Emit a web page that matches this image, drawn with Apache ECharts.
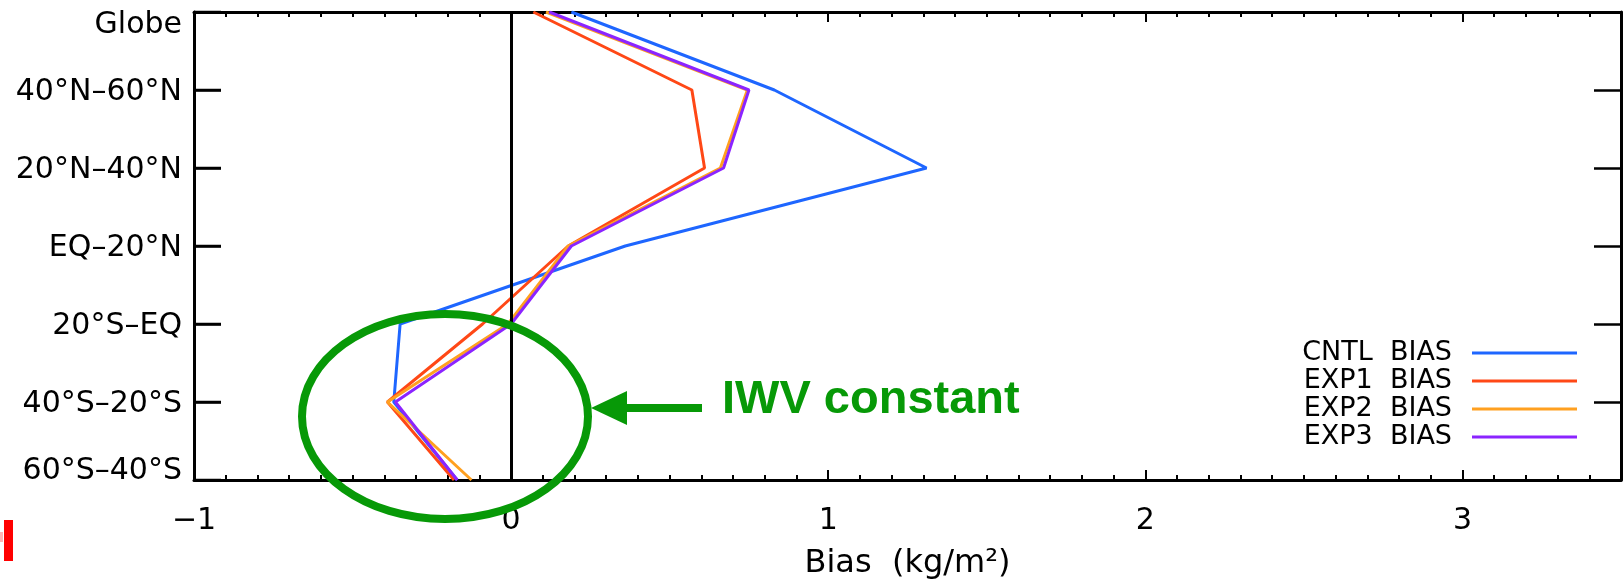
<!DOCTYPE html>
<html>
<head>
<meta charset="utf-8">
<script src="https://cdn.jsdelivr.net/npm/echarts@6/dist/echarts.min.js"></script>
<style>
html,body{margin:0;padding:0;background:#fff;}
#chart{width:1624px;height:583px;}
</style>
</head>
<body>
<div id="chart"></div>
<script>
// Latitude bands (top to bottom)
var categories = ['Globe', '40°N–60°N', '20°N–40°N', 'EQ–20°N', '20°S–EQ', '40°S–20°S', '60°S–40°S'];
// Bias values (kg/m²) per band
var cntlBias = [0.19, 0.83, 1.31, 0.36, -0.35, -0.37, -0.17];
var exp1Bias = [0.07, 0.57, 0.61, 0.18, -0.09, -0.39, -0.18];
var exp2Bias = [0.11, 0.745, 0.66, 0.18, -0.01, -0.39, -0.125];
var exp3Bias = [0.12, 0.75, 0.67, 0.19, 0.0, -0.365, -0.17];
var seriesNames = ['CNTL  BIAS', 'EXP1  BIAS', 'EXP2  BIAS', 'EXP3  BIAS'];
var seriesColors = ['#1e66ff', '#ff4816', '#ffa020', '#8b24ff'];
var xMin = -1, xMax = 3.5;

var chart = echarts.init(document.getElementById('chart'), null, {renderer: 'canvas'});
var FONT = 'DejaVu Sans';
function pairs(vals) { return vals.map(function (v, i) { return [v, categories[i]]; }); }
function lineSeries(name, vals, color, extra) {
  var s = {
    name: name, type: 'line', xAxisIndex: 0, yAxisIndex: 0,
    data: pairs(vals), symbol: 'none', color: color,
    lineStyle: {color: color, width: 3}, animation: false
  };
  if (extra) for (var k in extra) s[k] = extra[k];
  return s;
}
var axisBase = {type: 'value', min: xMin, max: xMax, splitLine: {show: false}};
function xa(opts) { var o = {}; for (var k in axisBase) o[k] = axisBase[k]; for (var j in opts) o[j] = opts[j]; return o; }

var annotations = [
  {type: 'ellipse', z: 100, shape: {cx: 445, cy: 416.5, rx: 143, ry: 102.5},
    style: {fill: 'none', stroke: '#079907', lineWidth: 8}},
  {type: 'rect', z: 100, shape: {x: 625, y: 404, width: 77, height: 8},
    style: {fill: '#079907'}},
  {type: 'polygon', z: 100, shape: {points: [[591, 408], [627, 391], [627, 425]]},
    style: {fill: '#079907'}},
  {type: 'text', z: 100, x: 722, y: 400,
    style: {text: 'IWV constant', fill: '#079907', font: 'bold 47px "Liberation Sans"', verticalAlign: 'middle', align: 'left'}},
  {type: 'rect', z: 100, shape: {x: 4, y: 520, width: 9, height: 41}, style: {fill: '#ff0000'}},
  {type: 'rect', z: 100, shape: {x: 0, y: 532, width: 3, height: 10}, style: {fill: '#ffb4b4'}}
];

var option = {
  backgroundColor: '#fff',
  animation: false,
  grid: {left: 194, right: 3, top: 12, bottom: 103, containLabel: false, outerBoundsMode: 'none'},
  legend: {
    orient: 'vertical', right: 42, top: 334, align: 'right',
    icon: 'rect', itemWidth: 105, itemHeight: 3, itemGap: 0,
    data: seriesNames,
    textStyle: {fontFamily: FONT, fontSize: 27, lineHeight: 28, color: '#000', padding: [0, 15, 0, 0]}
  },
  xAxis: [
    xa({position: 'bottom', interval: 1,
      axisLine: {show: true, onZero: false, lineStyle: {color: '#000', width: 3}},
      axisTick: {show: true, inside: true, length: 10, lineStyle: {color: '#000', width: 2}},
      axisLabel: {show: true, fontFamily: FONT, fontSize: 30, lineHeight: 30, color: '#000', margin: 26, showMaxLabel: false,
        formatter: function (v) { return v < 0 ? '\u2212' + Math.abs(v) : String(v); }},
      name: 'Bias  (kg/m²)', nameLocation: 'middle', nameGap: 68,
      nameTextStyle: {fontFamily: FONT, fontSize: 32, color: '#000'}
    }),
    xa({position: 'bottom', interval: 0.1,
      axisLine: {show: false, onZero: false},
      axisTick: {show: true, inside: true, length: 5, lineStyle: {color: '#000', width: 2}},
      axisLabel: {show: false}
    }),
    xa({position: 'top', interval: 1,
      axisLine: {show: true, onZero: false, lineStyle: {color: '#000', width: 3}},
      axisTick: {show: true, inside: true, length: 10, lineStyle: {color: '#000', width: 2}},
      axisLabel: {show: false}
    }),
    xa({position: 'top', interval: 0.1,
      axisLine: {show: false, onZero: false},
      axisTick: {show: true, inside: true, length: 5, lineStyle: {color: '#000', width: 2}},
      axisLabel: {show: false}
    })
  ],
  yAxis: [
    {type: 'category', data: categories, inverse: true, boundaryGap: false, position: 'left',
      axisLine: {show: true, onZero: false, lineStyle: {color: '#000', width: 3}},
      axisTick: {show: true, inside: true, length: 27, interval: 0, lineStyle: {color: '#000', width: 2.5}},
      axisLabel: {show: true, interval: 0, margin: 12, color: '#000',
        formatter: function (v, i) {
          if (i === 0) return '{top|' + v + '}';
          if (i === categories.length - 1) return '{bot|' + v + '}';
          return '{mid|' + v + '}';
        },
        rich: {
          top: {fontFamily: FONT, fontSize: 30, lineHeight: 30, color: '#000', padding: [26, 0, 0, 0]},
          mid: {fontFamily: FONT, fontSize: 30, lineHeight: 30, color: '#000', padding: [5, 0, 0, 0]},
          bot: {fontFamily: FONT, fontSize: 30, lineHeight: 30, color: '#000', padding: [0, 0, 17, 0]}
        }
      },
      splitLine: {show: false}
    },
    {type: 'category', data: categories, inverse: true, boundaryGap: false, position: 'right',
      axisLine: {show: true, onZero: false, lineStyle: {color: '#000', width: 3}},
      axisTick: {show: true, inside: true, length: 27, interval: 0, lineStyle: {color: '#000', width: 2.5}},
      axisLabel: {show: false}, splitLine: {show: false}
    }
  ],
  series: [
    lineSeries(seriesNames[0], cntlBias, seriesColors[0], {
      markLine: {silent: true, symbol: ['none', 'none'], label: {show: false},
        lineStyle: {color: '#000', width: 3, type: 'solid'}, data: [{xAxis: 0}]}
    }),
    lineSeries(seriesNames[1], exp1Bias, seriesColors[1]),
    lineSeries(seriesNames[2], exp2Bias, seriesColors[2]),
    lineSeries(seriesNames[3], exp3Bias, seriesColors[3])
  ],
  graphic: annotations
};
chart.setOption(option);

// Inward tick marks on the left frame, positioned through the chart's own scales
var tickGraphics = categories.map(function (c) {
  var p = chart.convertToPixel({xAxisIndex: 0, yAxisIndex: 0}, [xMin, c]);
  return {type: 'line', z: 200, shape: {x1: p[0], y1: p[1], x2: p[0] + 27, y2: p[1]},
    style: {stroke: '#000', lineWidth: 2.5}};
});
chart.setOption({graphic: annotations.concat(tickGraphics)});
</script>
</body>
</html>
